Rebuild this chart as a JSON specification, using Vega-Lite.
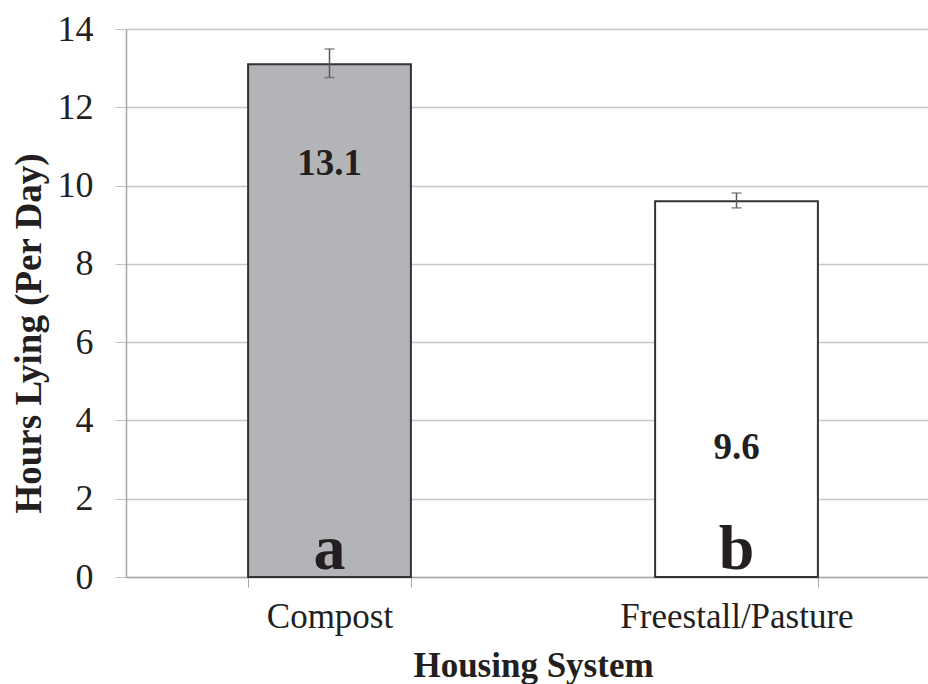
{
  "$schema": "https://vega.github.io/schema/vega-lite/v6.json",
  "autosize": {"type": "none"},
  "width": 802,
  "height": 548,
  "padding": {"left": 126, "top": 29, "right": 0, "bottom": 107},
  "background": "white",
  "config": {
    "view": {"stroke": null},
    "font": "Liberation Serif",
    "text": {"font": "Liberation Serif", "color": "#231f20"}
  },
  "data": {
    "values": [
      {"system": "Compost", "hours": 13.1, "lo": 12.76, "hi": 13.49, "label": "13.1", "letter": "a"},
      {"system": "Freestall/Pasture", "hours": 9.6, "lo": 9.43, "hi": 9.81, "label": "9.6", "letter": "b"}
    ]
  },
  "encoding": {
    "x": {
      "field": "system",
      "type": "nominal",
      "sort": null,
      "scale": {"domain": ["Compost", "Freestall/Pasture"], "range": [0, 814], "paddingInner": 0.6, "paddingOuter": 0.3},
      "axis": {
        "title": "Housing System",
        "labelAngle": 0,
        "labelFont": "Liberation Serif",
        "labelFontSize": 35,
        "labelLimit": 0,
        "labelColor": "#231f20",
        "labelPadding": 12,
        "tickBand": "extent",
        "tickSize": 10,
        "tickColor": "#a8a8a8",
        "domainColor": "#a8a8a8",
        "domainWidth": 1.5,
        "titleFont": "Liberation Serif",
        "titleFontSize": 35,
        "titleFontWeight": "bold",
        "titleColor": "#231f20",
        "titleBaseline": "alphabetic",
        "titleY": 99,
        "grid": false
      }
    }
  },
  "layer": [
    {
      "mark": {"type": "bar", "stroke": "#333333", "strokeWidth": 2},
      "encoding": {
        "y": {
          "field": "hours",
          "type": "quantitative",
          "scale": {"domain": [0, 14], "nice": false},
          "axis": {
            "title": "Hours Lying (Per Day)",
            "values": [0, 2, 4, 6, 8, 10, 12, 14],
            "labelFont": "Liberation Serif",
            "labelFontSize": 36,
            "labelColor": "#231f20",
            "labelPadding": 22,
            "tickSize": 11,
            "tickColor": "#c4c4c4",
            "domainColor": "#a8a8a8",
            "domainWidth": 1.5,
            "gridColor": "#c8c8c8",
            "gridWidth": 1.3,
            "titleFont": "Liberation Serif",
            "titleFontSize": 37,
            "titleFontWeight": "bold",
            "titleColor": "#231f20",
            "titleAngle": -90,
            "titleAlign": "center",
            "titleBaseline": "alphabetic",
            "titleX": -86,
            "titleY": 304
          }
        },
        "fill": {
          "field": "system",
          "type": "nominal",
          "scale": {"domain": ["Compost", "Freestall/Pasture"], "range": ["#b3b4b8", "#ffffff"]},
          "legend": null
        }
      }
    },
    {
      "mark": {"type": "rule", "color": "#5a5a5a", "strokeWidth": 1.5},
      "encoding": {
        "y": {"field": "lo", "type": "quantitative"},
        "y2": {"field": "hi"}
      }
    },
    {
      "mark": {"type": "tick", "color": "#5a5a5a", "thickness": 1.5, "size": 10, "orient": "horizontal"},
      "encoding": {"y": {"field": "lo", "type": "quantitative"}}
    },
    {
      "mark": {"type": "tick", "color": "#5a5a5a", "thickness": 1.5, "size": 10, "orient": "horizontal"},
      "encoding": {"y": {"field": "hi", "type": "quantitative"}}
    },
    {
      "transform": [{"filter": "datum.system === 'Compost'"}],
      "mark": {"type": "text", "fontSize": 37, "fontWeight": "bold", "baseline": "middle"},
      "encoding": {"y": {"datum": 10.55}, "text": {"field": "label"}}
    },
    {
      "transform": [{"filter": "datum.system === 'Freestall/Pasture'"}],
      "mark": {"type": "text", "fontSize": 37, "fontWeight": "bold", "baseline": "middle"},
      "encoding": {"y": {"datum": 3.3}, "text": {"field": "label"}}
    },
    {
      "mark": {"type": "text", "fontSize": 64, "fontWeight": "bold", "baseline": "alphabetic", "dy": -8},
      "encoding": {"y": {"datum": 0}, "text": {"field": "letter"}}
    }
  ]
}
